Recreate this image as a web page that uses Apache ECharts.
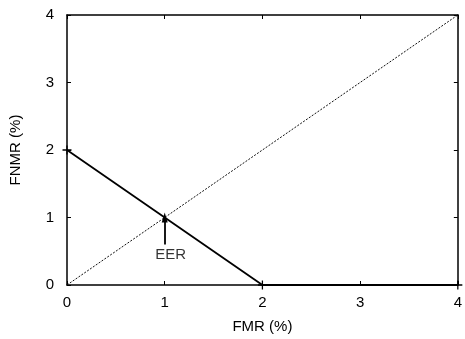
<!DOCTYPE html>
<html>
<head>
<meta charset="utf-8">
<script src="https://cdn.jsdelivr.net/npm/echarts@6/dist/echarts.min.js"></script>
<style>
html, body { margin: 0; padding: 0; background: #fff; }
#box { width: 465px; height: 339px; }
</style>
</head>
<body>
<div id="box"></div>
<script>
// 数据
var fmr = [0, 2, 4];
var fnmr = [2, 0, 0];
var diagX = [0, 4];
var diagY = [0, 4];
var eerPoint = [1, 1];
var eerArrowStart = [1, 0.6];
var eerLabelPos = [1.06, 0.45];

var chart = echarts.init(document.getElementById("box"));
var font = "Liberation Sans, Arial, sans-serif";
var plus = "path://M4.3,0h1.4v10h-1.4zM0,4.3h10v1.4h-10z";

function axisBase(pos, showLabel) {
  return {
    type: "value",
    position: pos,
    min: 0,
    max: 4,
    interval: 1,
    splitLine: { show: false },
    axisLine: { show: true, onZero: false, lineStyle: { color: "#000", width: 1.5 } },
    axisTick: { show: true, inside: true, length: 4, lineStyle: { color: "#000", width: 1 } },
    axisLabel: { show: showLabel, color: "#000", fontSize: 15, fontFamily: font, margin: 10 }
  };
}

var xb = axisBase("bottom", true);
xb.name = "FMR (%)";
xb.nameLocation = "middle";
xb.nameGap = 34;
xb.nameTextStyle = { color: "#000", fontSize: 15, fontFamily: font };
var yl = axisBase("left", true);
yl.name = "FNMR (%)";
yl.nameLocation = "middle";
yl.nameGap = 44;
yl.nameTextStyle = { color: "#000", fontSize: 15, fontFamily: font };
yl.axisLabel.margin = 13;

var option = {
  backgroundColor: "#fff",
  animation: false,
  grid: { left: 67, right: 3, top: 15, bottom: 53 },
  xAxis: [xb, axisBase("top", false)],
  yAxis: [yl, axisBase("right", false)],
  series: [
    {
      type: "line",
      data: diagX.map(function (v, i) { return [v, diagY[i]]; }),
      symbol: "none",
      lineStyle: { color: "#111", width: 1, type: [2, 1.5] },
      z: 2
    },
    {
      type: "line",
      data: fmr.map(function (v, i) { return [v, fnmr[i]]; }),
      symbol: plus,
      symbolSize: 9,
      showSymbol: true,
      itemStyle: { color: "#000" },
      lineStyle: { color: "#000", width: 1.8 },
      z: 3,
      markLine: {
        silent: true,
        symbol: ["none", "triangle"],
        symbolSize: [6, 10],
        lineStyle: { color: "#000", width: 1.8, type: "solid" },
        label: { show: false },
        data: [[{ coord: eerArrowStart }, { coord: eerPoint }]]
      }
    },
    {
      type: "scatter",
      data: [eerLabelPos],
      symbolSize: 0,
      itemStyle: { color: "#000" },
      label: {
        show: true,
        position: "inside",
        formatter: "EER",
        color: "#000",
        textBorderWidth: 0,
        fontSize: 15,
        fontFamily: font
      },
      z: 4
    }
  ]
};
chart.setOption(option);
</script>
</body>
</html>
